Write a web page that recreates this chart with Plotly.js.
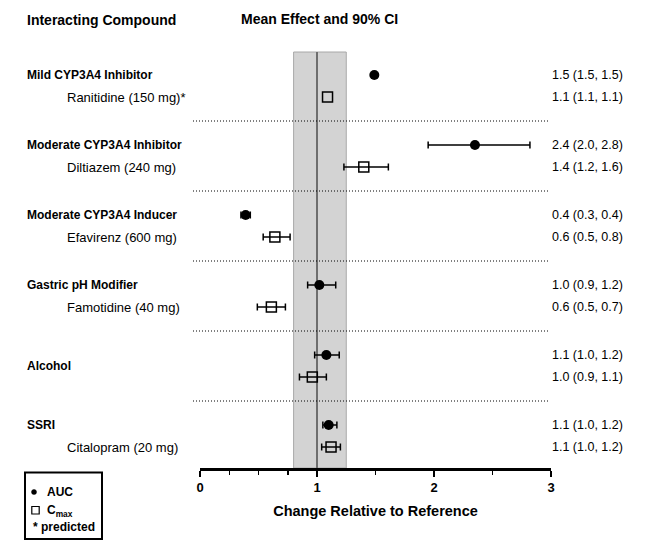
<!DOCTYPE html>
<html>
<head>
<meta charset="utf-8">
<script src="https://cdn.plot.ly/plotly-3.0.1.min.js"></script>
<style>html,body{margin:0;padding:0;background:#fff;}#chart{width:645px;height:552px;}</style>
</head>
<body>
<div id="chart"></div>
<script>
// ---- data ----
const groups = ['Mild CYP3A4 Inhibitor', 'Moderate CYP3A4 Inhibitor', 'Moderate CYP3A4 Inducer', 'Gastric pH Modifier', 'Alcohol', 'SSRI'];
const drugs = ['Ranitidine (150 mg)*', 'Diltiazem (240 mg)', 'Efavirenz (600 mg)', 'Famotidine (40 mg)', '', 'Citalopram (20 mg)'];
const aucMean = [1.49, 2.35, 0.39, 1.02, 1.08, 1.10];
const aucLo   = [1.49, 1.95, 0.35, 0.92, 0.98, 1.05];
const aucHi   = [1.49, 2.82, 0.43, 1.16, 1.19, 1.17];
const cmaxMean = [1.09, 1.40, 0.64, 0.61, 0.96, 1.12];
const cmaxLo   = [1.09, 1.23, 0.54, 0.49, 0.85, 1.04];
const cmaxHi   = [1.09, 1.61, 0.77, 0.73, 1.08, 1.20];
const aucText  = ['1.5 (1.5, 1.5)', '2.4 (2.0, 2.8)', '0.4 (0.3, 0.4)', '1.0 (0.9, 1.2)', '1.1 (1.0, 1.2)', '1.1 (1.0, 1.2)'];
const cmaxText = ['1.1 (1.1, 1.1)', '1.4 (1.2, 1.6)', '0.6 (0.5, 0.8)', '0.6 (0.5, 0.7)', '1.0 (0.9, 1.1)', '1.1 (1.0, 1.2)'];
const xTicks = [0, 1, 2, 3];
const xMinorTicks = [0.25, 0.5, 0.75, 1.5, 2.5];
const refBand = [0.8, 1.25];
const refLine = 1;

// ---- layout helpers ----
const W = 645, H = 552, ML = 200, MR = 94, MT = 52, MB = 84;
const PW = W - ML - MR, PH = H - MT - MB;
const GROUP_GAP = 70, ROW_GAP = 22;
const px = x => (x - ML) / PW;
const py = y => (H - MB - y) / PH;
const FONT = 'Arial, "Liberation Sans", sans-serif';

const yAuc = groups.map((g, i) => i * GROUP_GAP);
const yCmax = groups.map((g, i) => i * GROUP_GAP + ROW_GAP);
const plus = (m, hi) => m.map((v, i) => (hi[i] - v) > 0 ? hi[i] - v : NaN);
const minus = (m, lo) => m.map((v, i) => (v - lo[i]) > 0 ? v - lo[i] : NaN);

const traces = [
  {
    type: 'scatter', mode: 'markers', name: 'AUC',
    x: aucMean, y: yAuc,
    marker: {symbol: 'circle', size: 10, color: '#000'},
    error_x: {type: 'data', symmetric: false, array: plus(aucMean, aucHi), arrayminus: minus(aucMean, aucLo),
              color: '#000', thickness: 1.5, width: 3.5},
    hoverinfo: 'skip', cliponaxis: false
  },
  {
    type: 'scatter', mode: 'markers', name: 'Cmax',
    x: cmaxMean, y: yCmax,
    marker: {symbol: 'square-open', size: 10, color: '#000', line: {width: 1.5, color: '#000'}},
    error_x: {type: 'data', symmetric: false, array: plus(cmaxMean, cmaxHi), arrayminus: minus(cmaxMean, cmaxLo),
              color: '#000', thickness: 1.5, width: 3.5},
    hoverinfo: 'skip', cliponaxis: false
  }
];

const shapes = [
  {type: 'rect', xref: 'x', yref: 'paper', x0: refBand[0], x1: refBand[1], y0: 0, y1: 1,
   fillcolor: '#d3d3d3', line: {color: '#a8a8a8', width: 1}, layer: 'below'},
  {type: 'line', xref: 'x', yref: 'paper', x0: refLine, x1: refLine, y0: 0, y1: 1,
   line: {color: '#6e6e6e', width: 2}, layer: 'below'}
];
for (let i = 0; i < groups.length - 1; i++) {
  const ys = i * GROUP_GAP + ROW_GAP + (GROUP_GAP - ROW_GAP) / 2;
  shapes.push({type: 'line', xref: 'paper', yref: 'y', x0: px(193), x1: px(550), y0: ys, y1: ys,
               line: {color: '#000', width: 1, dash: '1px,2px'}});
}
// legend box
shapes.push({type: 'rect', xref: 'paper', yref: 'paper', x0: px(25), x1: px(102), y0: py(472.5), y1: py(539),
             line: {color: '#000', width: 2}, fillcolor: 'rgba(0,0,0,0)'});
shapes.push({type: 'circle', xref: 'paper', yref: 'paper', x0: px(31.5), x1: px(36.5), y0: py(489.5), y1: py(494.5),
             fillcolor: '#000', line: {color: '#000', width: 0.5}});
shapes.push({type: 'rect', xref: 'paper', yref: 'paper', x0: px(31.8), x1: px(39.2), y0: py(506.5), y1: py(514),
             fillcolor: 'rgba(0,0,0,0)', line: {color: '#000', width: 1.2}});

const annotations = [];
const ann = (o) => annotations.push(Object.assign({showarrow: false, yanchor: 'middle', xanchor: 'left'}, o));

ann({text: '<b>Interacting Compound</b>', xref: 'paper', yref: 'paper', x: px(25), y: py(20), font: {family: FONT, size: 14, color: '#000'}});
ann({text: '<b>Mean Effect and 90% CI</b>', xref: 'paper', yref: 'paper', x: px(238.5), y: py(19), font: {family: FONT, size: 14, color: '#000'}});

groups.forEach((g, i) => {
  const yHead = drugs[i] ? yAuc[i] : (yAuc[i] + yCmax[i]) / 2;
  ann({text: '<b>' + g + '</b>', xref: 'paper', yref: 'y', x: px(25), y: yHead, font: {family: FONT, size: 12, color: '#000'}});
  if (drugs[i]) {
    ann({text: drugs[i], xref: 'paper', yref: 'y', x: px(65), y: yCmax[i], font: {family: FONT, size: 13, color: '#000'}});
  }
  ann({text: aucText[i], xref: 'paper', yref: 'y', x: px(550), y: yAuc[i], font: {family: FONT, size: 12.5, color: '#000'}});
  ann({text: cmaxText[i], xref: 'paper', yref: 'y', x: px(550), y: yCmax[i], font: {family: FONT, size: 12.5, color: '#000'}});
});

// legend texts
ann({text: '<b>AUC</b>', xref: 'paper', yref: 'paper', x: px(45), y: py(492), font: {family: FONT, size: 12, color: '#000'}});
ann({text: '<b>C<sub>max</sub></b>', xref: 'paper', yref: 'paper', x: px(45), y: py(511), font: {family: FONT, size: 12, color: '#000'}});
ann({text: '<b>* predicted</b>', xref: 'paper', yref: 'paper', x: px(30.5), y: py(527), font: {family: FONT, size: 12, color: '#000'}});

const layout = {
  width: W, height: H,
  margin: {l: ML, r: MR, t: MT, b: MB, pad: 0},
  paper_bgcolor: '#fff', plot_bgcolor: 'rgba(0,0,0,0)',
  showlegend: false,
  font: {family: FONT, color: '#000'},
  xaxis: {
    range: [0, 3], tickmode: 'array', tickvals: xTicks, ticktext: xTicks.map(String),
    ticks: 'outside', ticklen: 6, tickwidth: 2, tickcolor: '#000',
    tickfont: {family: FONT, size: 13, weight: 'bold', color: '#000'},
    showline: true, linecolor: '#000', linewidth: 2.5,
    showgrid: false, zeroline: false, fixedrange: true,
    minor: {tickmode: 'array', tickvals: xMinorTicks, ticks: 'outside', ticklen: 4, tickwidth: 1.5, tickcolor: '#000', showgrid: false},
    title: {text: 'Change Relative to Reference', font: {family: FONT, size: 14.5, weight: 'bold', color: '#000'}, standoff: 12}
  },
  yaxis: {range: [393, -23], visible: false, fixedrange: true, showgrid: false, zeroline: false},
  shapes: shapes,
  annotations: annotations
};

Plotly.newPlot('chart', traces, layout, {displayModeBar: false, staticPlot: true});
</script>
</body>
</html>
